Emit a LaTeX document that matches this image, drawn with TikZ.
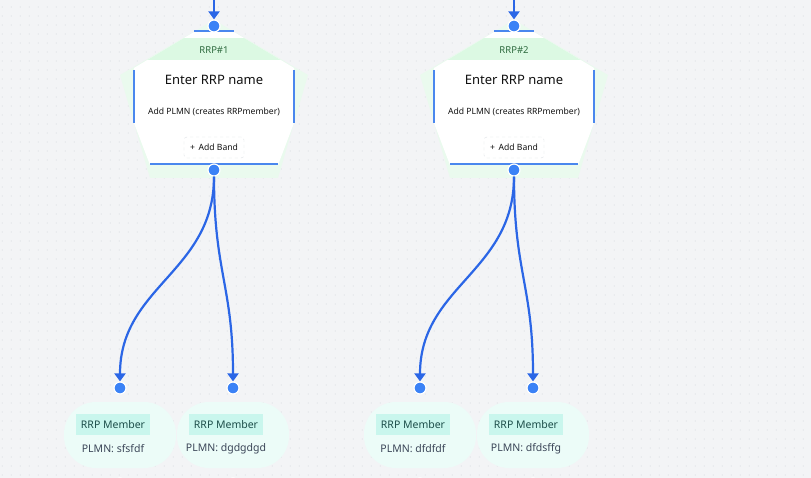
\documentclass[tikz,border=0pt]{standalone}
\usepackage{fontspec}
\setmainfont{Noto Sans}
\usetikzlibrary{arrows.meta}
\definecolor{bgcol}{HTML}{F3F4F6}
\definecolor{griddot}{HTML}{DCDFE4}
\definecolor{edgeblue}{HTML}{2B66E6}
\definecolor{dotblue}{HTML}{3B82F6}
\definecolor{borderblue}{HTML}{4A87EE}
\definecolor{outergreen}{HTML}{EAFAEE}
\definecolor{hdrgreen}{HTML}{DCF9E3}
\definecolor{hdrtext}{HTML}{2D6A3E}
\definecolor{memfill}{HTML}{ECFCF8}
\definecolor{tagfill}{HTML}{C9F6ED}
\definecolor{tagtext}{HTML}{1D4E4A}
\definecolor{plmntext}{HTML}{3B4658}
\definecolor{bandborder}{HTML}{DDE1E6}
\definecolor{darktext}{HTML}{111111}
\tikzset{
  edge/.style={draw=edgeblue, line width=2.2pt},
  arrowtip/.style={-{Triangle[width=11pt,length=8pt]}},
  port/.style={circle, fill=dotblue, draw=white, line width=1.2pt, minimum size=12pt, inner sep=0pt},
  hdrlabel/.style={text=hdrtext, font=\fontsize{9.5}{11}\selectfont, inner sep=0pt},
  namelabel/.style={text=darktext, font=\fontsize{13}{15}\selectfont, inner sep=0pt},
  plmnlink/.style={text=darktext, font=\fontsize{8.6}{10}\selectfont, inner sep=0pt},
  bandbtn/.style={draw=bandborder, dashed, rounded corners=3pt, fill=white, minimum width=60pt, minimum height=21pt, inner sep=0pt, text=darktext, font=\fontsize{8.6}{10}\selectfont},
  membox/.style={fill=memfill, rounded corners=32pt, minimum width=112pt, minimum height=66pt, inner sep=0pt},
  memtag/.style={fill=tagfill, minimum width=74pt, minimum height=21pt, inner sep=0pt, text=tagtext, font=\fontsize{10.5}{12}\selectfont},
  memplmn/.style={text=plmntext, font=\fontsize{10.5}{12}\selectfont, inner sep=0pt},
  bline/.style={draw=borderblue, line width=2pt},
}
\begin{document}
\begin{tikzpicture}[x=1pt,y=-1pt]
\useasboundingbox (0,0) rectangle (811,478);
\fill[bgcol] (0,0) rectangle (811,478);
\foreach \i in {0,...,89}{
  \foreach \j in {0,...,52}{
    \fill[griddot] (2.3+9*\i, 7+9*\j) circle (0.6);
  }
}
% cards
\foreach \dx/\n in {0/1,300/2}{
  \begin{scope}[xshift=\dx pt]
    \fill[outergreen] (214,20) -- (308,75) -- (278,178) -- (150,178) -- (120,75) -- cycle;
    \fill[white] (194,32) -- (234,32) -- (294,68) -- (294,123) -- (278,165) -- (150,165) -- (134,123) -- (134,68) -- cycle;
    \begin{scope}
      \clip (194,32) -- (234,32) -- (294,68) -- (294,123) -- (278,165) -- (150,165) -- (134,123) -- (134,68) -- cycle;
      \fill[hdrgreen] (120,38) rectangle (310,60);
    \end{scope}
    \draw[bline] (194,31.5) -- (234,31.5);
    \draw[bline] (150,164.5) -- (278,164.5);
    \draw[bline] (134,70) -- (134,123);
    \draw[bline] (294,70) -- (294,123);
    \node[hdrlabel] (hdr\n) at (214,50) {RRP\#\n};
    \node[namelabel] (name\n) at (214,80) {Enter RRP name};
    \node[plmnlink] (plmn\n) at (214,112) {Add PLMN (creates RRPmember)};
    \node[bandbtn] (band\n) at (214,147.5) {+\, Add Band};
    \node[port] (top\n) at (214,26) {};
    \node[port] (bot\n) at (214,170) {};
    \coordinate (in\n) at (214,-4);
    \draw[edge,arrowtip] (in\n) -- (top\n);
  \end{scope}
}
% members
\foreach \mx/\m/\lab in {120/a/sfsfdf, 233/b/dgdgdgd, 420/c/dfdfdf, 533/d/dfdsffg}{
  \node[membox] (mem\m) at (\mx,435) {};
  \node[memtag] (tag\m) at (\mx-7,424.5) {RRP Member};
  \node[memplmn] (pl\m) at (\mx-7,449) {PLMN: \lab};
  \node[port] (dot\m) at (\mx,388) {};
  \node[port, fill=dotblue!60!white] (low\m) at (\mx,484) {};
}
\draw[edge,arrowtip] (bot1) .. controls +(0,102) and +(0,-102) .. (dota);
\draw[edge,arrowtip] (bot1) .. controls +(0,102) and +(0,-102) .. (dotb);
\draw[edge,arrowtip] (bot2) .. controls +(0,102) and +(0,-102) .. (dotc);
\draw[edge,arrowtip] (bot2) .. controls +(0,102) and +(0,-102) .. (dotd);
\end{tikzpicture}
\end{document}
